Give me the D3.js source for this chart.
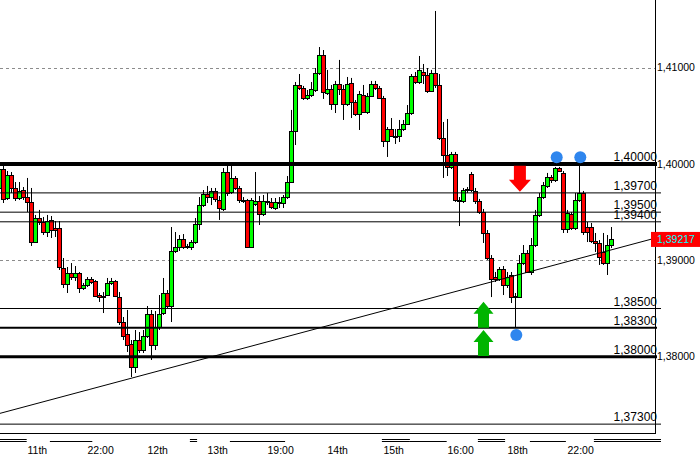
<!DOCTYPE html>
<html><head><meta charset="utf-8">
<script src="https://cdn.jsdelivr.net/npm/d3@7"></script>
<style>html,body{margin:0;padding:0;background:#fff;} svg{display:block;}</style>
</head><body><svg id="c" width="700" height="460"></svg>
<script>
// ---- data (first bar is the partial bar cut by the left edge) ----
const firstIndex = -1;
const opens = [1.39751,1.39948,1.39647,1.39886,1.39751,1.39647,1.39730,1.39657,1.39606,1.39190,1.39439,1.39398,1.39294,1.39419,1.39336,1.39336,1.38920,1.38754,1.38869,1.38827,1.38869,1.38713,1.38744,1.38806,1.38786,1.38640,1.38619,1.38640,1.38765,1.38786,1.38619,1.38360,1.38235,1.38132,1.37893,1.38173,1.38069,1.38215,1.38443,1.38121,1.38308,1.38453,1.38661,1.38526,1.39097,1.39138,1.39221,1.39149,1.39138,1.39190,1.39377,1.39574,1.39689,1.39657,1.39720,1.39626,1.39533,1.39917,1.39709,1.39855,1.39751,1.39626,1.39626,1.39138,1.39585,1.39616,1.39481,1.39616,1.39606,1.39543,1.39595,1.39595,1.39657,1.39813,1.40343,1.40820,1.40789,1.40685,1.40716,1.40768,1.40945,1.41131,1.40737,1.40779,1.40623,1.40830,1.40779,1.40623,1.40841,1.40644,1.40519,1.40716,1.40540,1.40706,1.40830,1.40789,1.40685,1.40239,1.40363,1.40291,1.40291,1.40363,1.40415,1.40529,1.40913,1.40851,1.40955,1.40924,1.40758,1.40945,1.40820,1.40270,1.40093,1.39969,1.40104,1.39626,1.39616,1.39730,1.39896,1.39720,1.39616,1.39502,1.39284,1.39024,1.38827,1.38806,1.38910,1.38744,1.38848,1.38630,1.38619,1.38972,1.39076,1.38879,1.39159,1.39471,1.39657,1.39772,1.39865,1.39834,1.39958,1.39907,1.39325,1.39481,1.39336,1.39626,1.39699,1.39346,1.39346,1.39201,1.39180,1.39087,1.38972,1.39159];
const highs = [1.39969,1.39979,1.39927,1.39917,1.39813,1.39813,1.39761,1.39855,1.39751,1.39471,1.39523,1.39450,1.39471,1.39460,1.39408,1.39408,1.39024,1.38931,1.38972,1.38941,1.38879,1.38765,1.38827,1.38827,1.38796,1.38661,1.38671,1.38817,1.38817,1.38796,1.38671,1.38412,1.38485,1.38173,1.38277,1.38256,1.38277,1.38526,1.38485,1.38474,1.38640,1.38817,1.38692,1.39346,1.39294,1.39263,1.39273,1.39170,1.39211,1.39439,1.39657,1.39730,1.39772,1.39751,1.39751,1.39668,1.39958,1.39979,1.39979,1.39875,1.39772,1.39657,1.39637,1.39647,1.39917,1.39668,1.39678,1.39699,1.39647,1.39647,1.39657,1.39678,1.39875,1.40561,1.40851,1.40934,1.40810,1.40768,1.40851,1.40996,1.41214,1.41183,1.40976,1.40820,1.40862,1.41080,1.40820,1.40903,1.40893,1.40664,1.40758,1.40820,1.40737,1.40862,1.40862,1.40810,1.40706,1.40384,1.40477,1.40363,1.40457,1.40457,1.40612,1.40934,1.40955,1.41121,1.41038,1.40996,1.40976,1.41588,1.40934,1.40436,1.40467,1.40125,1.40125,1.39657,1.39751,1.39761,1.39917,1.39751,1.39637,1.39533,1.39315,1.39055,1.38879,1.38931,1.38941,1.38879,1.38879,1.38661,1.39055,1.39159,1.39107,1.39232,1.39523,1.39699,1.39813,1.39907,1.39886,1.39969,1.39969,1.39927,1.39523,1.39502,1.39699,1.40000,1.39720,1.39398,1.39388,1.39284,1.39211,1.39284,1.39263,1.39346];
const lows = [1.39730,1.39595,1.39626,1.39699,1.39616,1.39626,1.39626,1.39502,1.39149,1.39180,1.39367,1.39263,1.39242,1.39232,1.39242,1.38900,1.38713,1.38661,1.38796,1.38786,1.38661,1.38692,1.38723,1.38754,1.38619,1.38568,1.38453,1.38630,1.38744,1.38619,1.38329,1.38173,1.38049,1.37789,1.37831,1.38038,1.38038,1.38194,1.37966,1.38069,1.38277,1.38433,1.38505,1.38360,1.39076,1.39097,1.39118,1.39118,1.39107,1.39170,1.39315,1.39554,1.39595,1.39574,1.39606,1.39419,1.39512,1.39668,1.39689,1.39730,1.39595,1.39595,1.39128,1.39128,1.39564,1.39367,1.39460,1.39574,1.39533,1.39523,1.39543,1.39543,1.39637,1.39803,1.40197,1.40768,1.40664,1.40664,1.40695,1.40747,1.40924,1.40675,1.40716,1.40561,1.40529,1.40716,1.40457,1.40602,1.40477,1.40498,1.40353,1.40529,1.40519,1.40695,1.40768,1.40675,1.40176,1.40073,1.40280,1.40208,1.40228,1.40343,1.40405,1.40509,1.40830,1.40830,1.40830,1.40737,1.40747,1.40789,1.40249,1.39855,1.39875,1.39948,1.39606,1.39356,1.39595,1.39699,1.39709,1.39585,1.39481,1.39180,1.39004,1.38619,1.38775,1.38786,1.38640,1.38713,1.38557,1.38298,1.38609,1.38952,1.38869,1.38848,1.39138,1.39450,1.39637,1.39751,1.39803,1.39813,1.39917,1.39284,1.39284,1.39315,1.39315,1.39606,1.39263,1.39190,1.39180,1.39087,1.38952,1.38952,1.38848,1.39128];
const closes = [1.39948,1.39637,1.39886,1.39751,1.39647,1.39720,1.39657,1.39606,1.39190,1.39439,1.39398,1.39294,1.39408,1.39315,1.39315,1.38931,1.38754,1.38869,1.38827,1.38869,1.38713,1.38744,1.38806,1.38775,1.38630,1.38619,1.38630,1.38765,1.38786,1.38630,1.38360,1.38215,1.38121,1.37893,1.38173,1.38069,1.38215,1.38443,1.38121,1.38308,1.38443,1.38661,1.38526,1.39097,1.39138,1.39221,1.39138,1.39138,1.39190,1.39377,1.39574,1.39689,1.39657,1.39720,1.39637,1.39543,1.39917,1.39699,1.39855,1.39751,1.39626,1.39616,1.39138,1.39626,1.39616,1.39481,1.39616,1.39606,1.39554,1.39606,1.39606,1.39657,1.39813,1.40343,1.40820,1.40789,1.40685,1.40716,1.40779,1.40945,1.41131,1.40747,1.40779,1.40623,1.40830,1.40779,1.40623,1.40830,1.40644,1.40519,1.40727,1.40540,1.40706,1.40830,1.40789,1.40685,1.40239,1.40363,1.40291,1.40280,1.40363,1.40415,1.40529,1.40913,1.40851,1.40976,1.40924,1.40758,1.40945,1.40820,1.40270,1.40093,1.39969,1.40104,1.39626,1.39616,1.39730,1.39740,1.39730,1.39616,1.39502,1.39284,1.39024,1.38806,1.38806,1.38910,1.38744,1.38827,1.38619,1.38619,1.38972,1.39076,1.38879,1.39159,1.39471,1.39657,1.39782,1.39865,1.39834,1.39958,1.39927,1.39325,1.39491,1.39336,1.39626,1.39699,1.39294,1.39294,1.39201,1.39180,1.39035,1.38972,1.39159,1.39217];

const levelValues = [1.40000, 1.39700, 1.39500, 1.39400, 1.38500, 1.38300, 1.38000, 1.37300];
const levelLabels = ["1,40000","1,39700","1,39500","1,39400","1,38500","1,38300","1,38000","1,37300"];
const levelWeights = [4, 1, 1, 1, 1, 2, 3, 1];
const gridValues = [1.41000, 1.39000];
const axisValues = [1.41000, 1.40000, 1.39000, 1.38000];
const axisLabels = ["1,41000","1,40000","1,39000","1,38000"];
const timeTickIndex = [6, 21, 36, 51, 66, 81, 95, 111, 126, 141];
const timeTickLabels = ["11th","22:00","12th","13th","19:00","14th","15th","16:00","18th","22:00"];
// separator strokes drawn along the time scale, as [fromIndex, toIndex, row]
const scaleMarkFrom = [-0.875, -0.875, 11.6, 46.6, 46.6, 56.6, 94.6, 94.6, 101.6, 118.6, 118.6, 131.6, 147.6, 147.6];
const scaleMarkTo   = [5.8, 5.8, 22.2, 48.4, 48.4, 70.4, 101.6, 101.6, 110.8, 125.4, 125.4, 140.6, 162.875, 162.875];
const scaleMarkRow  = [0, 1, 1, 0, 1, 1, 0, 1, 1, 0, 1, 1, 0, 1];
const trendIndex = [-0.875, 162.875];
const trendPrice = [1.37412, 1.39230];
const lastPrice = 1.39217;
const lastPriceLabel = "1,39217";
const dotIndex = [128.2, 138.3, 144.2];
const dotPrice = [1.38225, 1.40070, 1.40070];
const arrowIndex = [129.1, 120.0, 120.0];
const arrowPrice = [1.39982, 1.38570, 1.38277];
const arrowDir = ["down", "up", "up"];

// ---- layout ----
const W = 700, H = 460, plotR = 655, plotB = 433;
const svg = d3.select("#c");
const x = d3.scaleLinear().domain([-0.875, 162.875]).range([0, plotR]);
const y = d3.scaleLinear().domain([1.37208, 1.41702]).range([plotB, 0]);
const FONT = "'Liberation Sans', Arial, sans-serif";

const candles = opens.map((o, k) => ({i: k + firstIndex, o, h: highs[k], l: lows[k], c: closes[k]}));

svg.append("defs").append("clipPath").attr("id", "pc")
  .append("rect").attr("x", 0).attr("y", 0).attr("width", plotR).attr("height", plotB);

// dashed grid
svg.append("g").selectAll("line").data(gridValues).join("line")
  .attr("x1", 0).attr("x2", plotR)
  .attr("y1", d => Math.round(y(d)) + 0.5).attr("y2", d => Math.round(y(d)) + 0.5)
  .attr("stroke", "#8c8c8c").attr("stroke-width", 1).attr("stroke-dasharray", "3,3");

// candles
const cg = svg.append("g").attr("clip-path", "url(#pc)");
const px = i => Math.round(x(i) - 0.5) + 0.5;
cg.selectAll("line.w").data(candles).join("line").attr("class", "w")
  .attr("x1", d => px(d.i)).attr("x2", d => px(d.i))
  .attr("y1", d => y(d.h)).attr("y2", d => y(d.l))
  .attr("stroke", "#000").attr("stroke-width", 1);
cg.selectAll("rect.b").data(candles).join("rect").attr("class", "b")
  .attr("x", d => px(d.i) - 2)
  .attr("width", 4)
  .attr("y", d => Math.round(Math.min(y(d.o), y(d.c))) + 0.5)
  .attr("height", d => Math.max(0.01, Math.round(Math.abs(y(d.o) - y(d.c)))))
  .attr("fill", d => d.c >= d.o ? "#00ff00" : "#ff0000")
  .attr("stroke", "#000").attr("stroke-width", 1);

// level lines
const lv = levelValues.map((v, k) => ({v, label: levelLabels[k], w: levelWeights[k]}));
svg.append("g").selectAll("line").data(lv).join("line")
  .attr("x1", 0).attr("x2", d => d.w > 1 ? plotR + 2 : plotR + 6)
  .attr("y1", d => y(d.v)).attr("y2", d => y(d.v))
  .attr("stroke", "#000").attr("stroke-width", d => d.w);

// trend line
svg.append("line")
  .attr("x1", x(trendIndex[0])).attr("y1", y(trendPrice[0]))
  .attr("x2", x(trendIndex[1])).attr("y2", y(trendPrice[1]))
  .attr("stroke", "#000").attr("stroke-width", 1);

// level labels
svg.append("g").selectAll("text").data(lv).join("text")
  .attr("x", plotR + 2).attr("y", d => y(d.v) - 3)
  .attr("text-anchor", "end").attr("font-family", FONT).attr("font-size", 12)
  .attr("fill", "#000").text(d => d.label);

// arrows
const arrows = arrowIndex.map((a, k) => ({cx: x(a), top: y(arrowPrice[k]), dir: arrowDir[k]}));
svg.append("g").selectAll("path").data(arrows).join("path")
  .attr("d", d => {
    const cx = d.cx, t = d.top;
    if (d.dir === "down") {
      return `M${cx-6},${t}H${cx+6}V${t+14}H${cx+11}L${cx},${t+26}L${cx-11},${t+14}H${cx-6}Z`;
    }
    return `M${cx},${t}L${cx+10},${t+12}H${cx+5.5}V${t+26}H${cx-5.5}V${t+12}H${cx-10}Z`;
  })
  .attr("fill", d => d.dir === "down" ? "#ff0000" : "#00b400");

// dots
svg.append("g").selectAll("circle").data(dotIndex).join("circle")
  .attr("cx", d => x(d)).attr("cy", (d, k) => y(dotPrice[k])).attr("r", 6)
  .attr("fill", "#2f86ee");

// frame
svg.append("line").attr("x1", plotR + 0.5).attr("x2", plotR + 0.5).attr("y1", 0).attr("y2", plotB + 1)
  .attr("stroke", "#000");
svg.append("line").attr("x1", 0).attr("x2", plotR + 1).attr("y1", plotB + 0.5).attr("y2", plotB + 0.5)
  .attr("stroke", "#000");

// price axis
svg.append("g").selectAll("text").data(axisValues).join("text")
  .attr("x", plotR + 2).attr("y", d => y(d) + 3.8)
  .attr("font-family", FONT).attr("font-size", 10.5).attr("fill", "#000")
  .text((d, k) => axisLabels[k]);

// last price tag
const ly = y(lastPrice);
svg.append("rect").attr("x", plotR - 4).attr("y", ly - 7.5).attr("width", W - plotR + 4).attr("height", 15)
  .attr("fill", "#ff0000");
svg.append("text").attr("x", plotR + 2).attr("y", ly + 3.8)
  .attr("font-family", FONT).attr("font-size", 10.5).attr("fill", "#00ffff").text(lastPriceLabel);

// time scale strokes
svg.append("g").selectAll("line").data(scaleMarkFrom).join("line")
  .attr("x1", d => x(d)).attr("x2", (d, k) => Math.min(W, x(scaleMarkTo[k]) + (scaleMarkTo[k] > 162 ? 6 : 0)))
  .attr("y1", (d, k) => 439.5 + 2 * scaleMarkRow[k]).attr("y2", (d, k) => 439.5 + 2 * scaleMarkRow[k])
  .attr("stroke", "#000").attr("stroke-width", 1);

// time axis
svg.append("g").selectAll("text").data(timeTickIndex).join("text")
  .attr("x", d => x(d)).attr("y", 454)
  .attr("font-family", FONT).attr("font-size", 10.5).attr("fill", "#000")
  .text((d, k) => timeTickLabels[k]);
</script></body></html>
